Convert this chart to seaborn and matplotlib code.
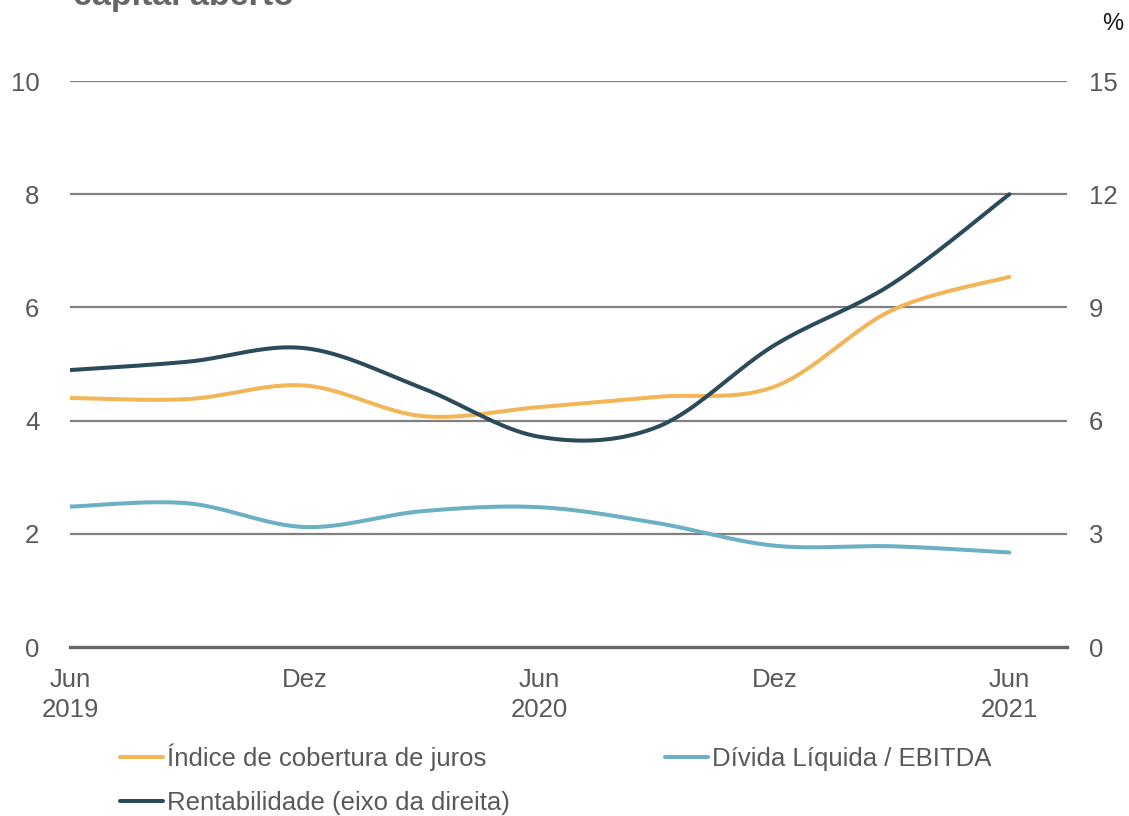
import numpy as np
import pandas as pd
import matplotlib
matplotlib.use("Agg")
import matplotlib.pyplot as plt
from matplotlib.lines import Line2D
import seaborn as sns

# Quarterly observations, Jun 2019 - Jun 2021
quarters = ["Jun 2019", "Set 2019", "Dez 2019", "Mar 2020", "Jun 2020",
            "Set 2020", "Dez 2020", "Mar 2021", "Jun 2021"]
cobertura_juros = [4.40, 4.38, 4.62, 4.08, 4.24, 4.42, 4.60, 5.95, 6.54]
divida_ebitda = [2.48, 2.54, 2.12, 2.40, 2.47, 2.19, 1.79, 1.78, 1.67]
rentabilidade = [7.34, 7.56, 7.92, 6.86, 5.57, 5.83, 8.00, 9.62, 12.0]

tick_pos = [0, 2, 4, 6, 8]
tick_labels = ["Jun\n2019", "Dez", "Jun\n2020", "Dez", "Jun\n2021"]

labels = ["Índice de cobertura de juros", "Dívida Líquida / EBITDA",
          "Rentabilidade (eixo da direita)"]
colors = ["#F2B557", "#6BB0C3", "#2B4A5A"]
title = "capital aberto"

TXT = "#595959"
FS = 18.5


def smooth(x, y, n=40):
    """Smoothed line through the points (cubic Bezier with Catmull-Rom tangents)."""
    x = np.asarray(x, float)
    y = np.asarray(y, float)
    px = np.concatenate([[x[0]], x, [x[-1]]])
    py = np.concatenate([[y[0]], y, [y[-1]]])
    t = np.linspace(0, 1, n)[:, None]
    xs, ys = [], []
    for i in range(1, len(px) - 2):
        p0 = np.array([px[i], py[i]])
        p3 = np.array([px[i + 1], py[i + 1]])
        p1 = p0 + (np.array([px[i + 1], py[i + 1]]) - np.array([px[i - 1], py[i - 1]])) / 6
        p2 = p3 - (np.array([px[i + 2], py[i + 2]]) - np.array([px[i], py[i]])) / 6
        b = ((1 - t) ** 3) * p0 + 3 * ((1 - t) ** 2) * t * p1 + 3 * (1 - t) * t ** 2 * p2 + t ** 3 * p3
        xs.append(b[:, 0])
        ys.append(b[:, 1])
    return np.concatenate(xs), np.concatenate(ys)


sns.set_theme(style="white")
plt.rcParams["font.family"] = ["Liberation Sans", "DejaVu Sans"]

fig = plt.figure(figsize=(11.29, 8.16), dpi=100)
ax = fig.add_axes([0.062, 0.2071, 0.883, 0.6936])
ax2 = ax.twinx()

xq = np.arange(len(quarters))
for vals, col in [(cobertura_juros, colors[0]), (divida_ebitda, colors[1])]:
    sx, sy = smooth(xq, vals)
    sns.lineplot(x=sx, y=sy, ax=ax, color=col, lw=2.9, sort=False,
                 estimator=None, solid_capstyle="round")
sx, sy = smooth(xq, rentabilidade)
sns.lineplot(x=sx, y=sy, ax=ax2, color=colors[2], lw=2.9, sort=False,
             estimator=None, solid_capstyle="round")

ax.set_xlim(0, 8.49)
ax.set_ylim(0, 10)
ax2.set_ylim(0, 15)
ax.set_yticks(np.arange(0, 11, 2))
ax2.set_yticks(np.arange(0, 16, 3))
ax.set_xticks(tick_pos)
ax.set_xticklabels(tick_labels, linespacing=1.3)

ax.grid(False)
ax2.grid(False)
for v in np.arange(2, 11, 2):
    ax.axhline(v, color="#808080", lw=1.6, zorder=0)

for a in (ax, ax2):
    for s in ("top", "left", "right", "bottom"):
        a.spines[s].set_visible(False)
ax.spines["bottom"].set_visible(True)
ax.spines["bottom"].set_color("#666666")
ax.spines["bottom"].set_linewidth(2.4)

ax.tick_params(axis="y", length=0, pad=22, labelsize=FS, labelcolor=TXT)
ax2.tick_params(axis="y", length=0, pad=16, labelsize=FS, labelcolor=TXT)
ax.tick_params(axis="x", length=7, width=2, color="#666666", direction="out",
               pad=8, labelsize=FS, labelcolor=TXT)
ax.set_xlabel("")
ax.set_ylabel("")
ax2.set_ylabel("")

fig.text(0.0647, 0.9939, title, fontsize=24.5, fontweight="bold", color="#666666",
         ha="left", va="baseline")
fig.text(0.995, 0.970, "%", fontsize=17, color="#1a1a1a", ha="right", va="center")

handles = [Line2D([], [], color=c, lw=2.9) for c in colors]
order = [0, 2, 1]
fig.legend([handles[i] for i in order], [labels[i] for i in order],
           loc="upper left", bbox_to_anchor=(0.1063, 0.0885), ncol=2,
           frameon=False, fontsize=FS, labelcolor=TXT,
           handlelength=1.67, handletextpad=0.15, columnspacing=6.05,
           labelspacing=0.78, borderaxespad=0, borderpad=0)

fig.savefig("out.png", dpi=100)
